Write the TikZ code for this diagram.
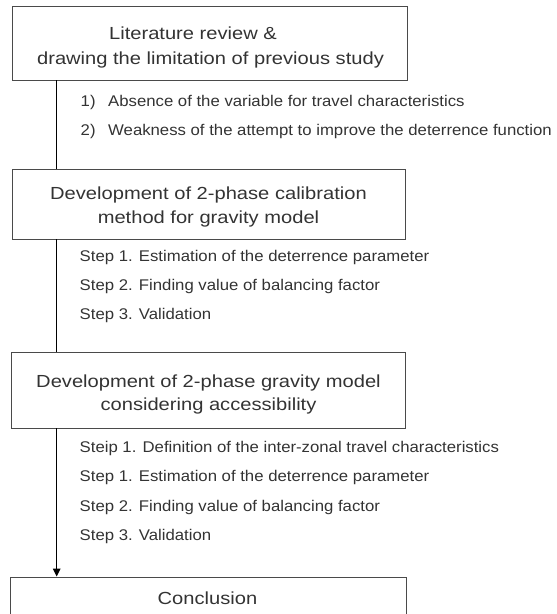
\documentclass[tikz,border=0pt]{standalone}
\usepackage{fontspec}
\usetikzlibrary{arrows.meta}
\newfontfamily\titlefont[FakeStretch=1.15]{Liberation Sans}
\newfontfamily\itemfont[FakeStretch=1.08]{Liberation Sans}
\definecolor{txt}{HTML}{333333}
\definecolor{edge}{HTML}{4A4A4A}
\tikzset{
  box/.style={draw=edge, line width=0.9pt, rectangle, inner sep=0pt},
  ttl/.style={text=txt, inner sep=0pt, anchor=base, font=\titlefont\fontsize{17.5}{21}\selectfont},
  itm/.style={text=txt, inner sep=0pt, anchor=base west, font=\itemfont\fontsize{15.5}{18}\selectfont},
  flow/.style={draw=black, line width=1.3pt},
}
\begin{document}
\begin{tikzpicture}[x=1pt,y=-1pt]
\useasboundingbox (0,0) rectangle (557,614);
\begin{scope}
\clip (0,0) rectangle (557,614);
% boxes
\node[box, minimum width=395pt, minimum height=74pt] (b1) at (209.5,43) {};
\node[box, minimum width=393pt, minimum height=70pt] (b2) at (208.5,204) {};
\node[box, minimum width=394pt, minimum height=76pt] (b3) at (208,390) {};
\node[box, minimum width=396pt, minimum height=70pt] (b4) at (208,612) {};
% titles
\node[ttl] (t1a) at (193,39) {Literature review \&};
\node[ttl] (t1b) at (210.5,64) {drawing the limitation of previous study};
\node[ttl] (t2a) at (208.5,199) {Development of 2-phase calibration};
\node[ttl] (t2b) at (208.5,223) {method for gravity model};
\node[ttl] (t3a) at (208.5,387) {Development of 2-phase gravity model};
\node[ttl] (t3b) at (208.5,410) {considering accessibility};
\node[ttl] (t4) at (207.5,604) {Conclusion};
% items
\node[itm] (i1) at (80.5,106) {\makebox[27.5pt][l]{1)}Absence of the variable for travel characteristics};
\node[itm] (i2) at (80.5,135) {\makebox[27.5pt][l]{2)}Weakness of the attempt to improve the deterrence function};
\node[itm] (s1) at (79.5,261) {Step 1. Estimation of the deterrence parameter};
\node[itm] (s2) at (79.5,290) {Step 2. Finding value of balancing factor};
\node[itm] (s3) at (79.5,319) {Step 3. Validation};
\node[itm] (u0) at (79.5,452.5) {Steip 1. Definition of the inter-zonal travel characteristics};
\node[itm] (u1) at (79.5,481.5) {Step 1. Estimation of the deterrence parameter};
\node[itm] (u2) at (79.5,511) {Step 2. Finding value of balancing factor};
\node[itm] (u3) at (79.5,540.5) {Step 3. Validation};
% connectors
\coordinate (L) at (56.7,0);
\draw[flow] (b1.south -| L) -- (b2.north -| L);
\draw[flow] (b2.south -| L) -- (b3.north -| L);
\draw[flow, -{Triangle[width=7.5pt,length=8pt]}] (b3.south -| L) -- (b4.north -| L);
\end{scope}
\end{tikzpicture}
\end{document}
